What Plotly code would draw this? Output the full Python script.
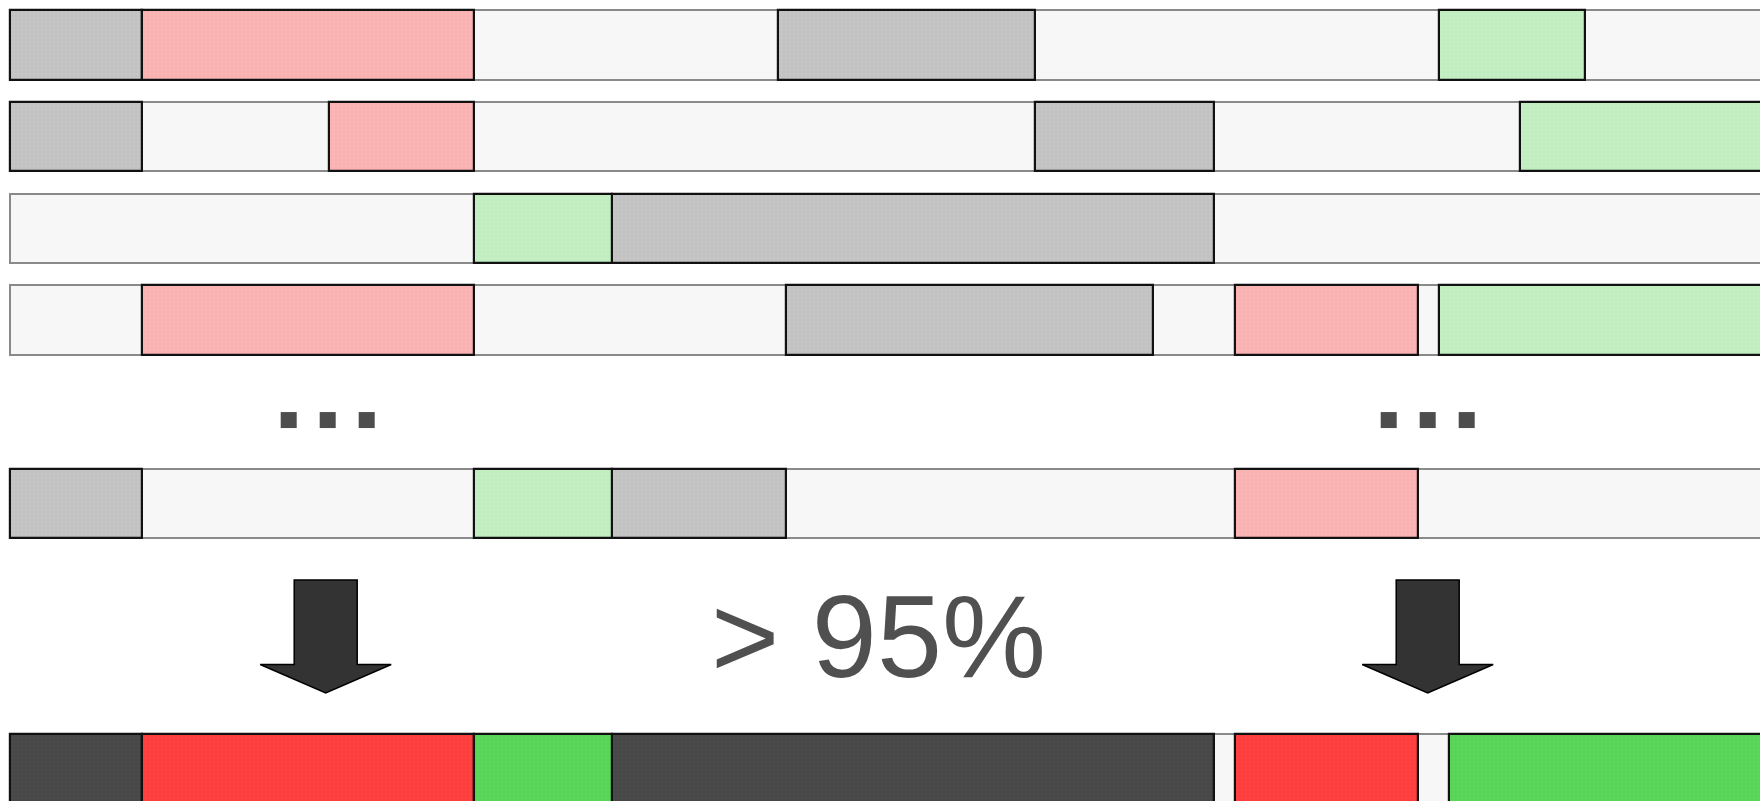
import plotly.graph_objects as go

# ---- data -------------------------------------------------------------
# row labels and their vertical slot (row index; 4 is the "..." gap)
row_names = ["run 1", "run 2", "run 3", "run 4", "run n", "result"]
row_slots = [0, 1, 2, 3, 5, 7.89]

# segments per row: start, end (time units), kind
run1_start = [0.0, 13.2, 76.8, 142.9]
run1_end = [13.2, 46.4, 102.5, 157.5]
run1_kind = ["gray", "red", "gray", "green"]

run2_start = [0.0, 31.9, 102.5, 151.0]
run2_end = [13.2, 46.4, 120.4, 180.0]
run2_kind = ["gray", "red", "gray", "green"]

run3_start = [46.4, 60.2]
run3_end = [60.2, 120.4]
run3_kind = ["green", "gray"]

run4_start = [13.2, 77.6, 122.5, 142.9]
run4_end = [46.4, 114.3, 140.8, 180.0]
run4_kind = ["red", "gray", "red", "green"]

runn_start = [0.0, 46.4, 60.2, 122.5]
runn_end = [13.2, 60.2, 77.6, 140.8]
runn_kind = ["gray", "green", "gray", "red"]

result_start = [0.0, 13.2, 46.4, 60.2, 122.5, 143.9]
result_end = [13.2, 46.4, 60.2, 120.4, 140.8, 180.0]
result_kind = ["dgray", "dred", "dgreen", "dgray", "dred", "dgreen"]

track_end = 180.0
ellipsis_x = [27.9, 31.8, 35.7, 137.9, 141.8, 145.7]
arrow_x = [31.6, 141.8]
label_text = "> 95%"
label_x = 86.9

# ---- styling ----------------------------------------------------------
colors = {
    "gray": ("#c1c1c1", "#d6d6d6"),
    "red": ("#fbb0b0", "#ffcfcf"),
    "green": ("#bfedbf", "#d6f5d6"),
    "dgray": ("#474747", "#575757"),
    "dred": ("#fe3b3b", "#ff5a5a"),
    "dgreen": ("#55d555", "#6ee06e"),
}
BAR_W = 0.757

starts = [run1_start, run2_start, run3_start, run4_start, runn_start, result_start]
ends = [run1_end, run2_end, run3_end, run4_end, runn_end, result_end]
kinds = [run1_kind, run2_kind, run3_kind, run4_kind, runn_kind, result_kind]

fig = go.Figure()

# background tracks
fig.add_trace(go.Bar(
    y=row_slots, x=[track_end] * len(row_slots), base=[0.0] * len(row_slots),
    orientation="h", width=BAR_W,
    marker=dict(color="#f7f7f7", line=dict(color="#8a8a8a", width=2)),
    hoverinfo="skip", showlegend=False,
))

# colored segments grouped by kind
for kind, (col, light) in colors.items():
    ys, xs, bs = [], [], []
    for slot, st, en, kd in zip(row_slots, starts, ends, kinds):
        for s, e, k in zip(st, en, kd):
            if k == kind:
                ys.append(slot)
                xs.append(e - s)
                bs.append(s)
    if not ys:
        continue
    fig.add_trace(go.Bar(
        y=ys, x=xs, base=bs, orientation="h", width=BAR_W,
        marker=dict(color=col, line=dict(color="#111111", width=2.2),
                    pattern=dict(shape="+", size=4, solidity=0.12,
                                 fgcolor=light, bgcolor=col,
                                 fillmode="replace")),
        name=kind, showlegend=False,
    ))

# "..." markers
fig.add_trace(go.Scatter(
    x=ellipsis_x, y=[4.09] * len(ellipsis_x), mode="markers",
    marker=dict(symbol="square", size=16, color="#4d4d4d",
                line=dict(width=0)),
    showlegend=False, hoverinfo="skip",
))

# arrows
shaft_hw, head_hw = 3.15, 6.55
y_top, y_wing, y_tip = 5.834, 6.756, 7.066
for ax in arrow_x:
    path = (f"M {ax - shaft_hw} {y_top} L {ax + shaft_hw} {y_top} "
            f"L {ax + shaft_hw} {y_wing} L {ax + head_hw} {y_wing} "
            f"L {ax} {y_tip} L {ax - head_hw} {y_wing} "
            f"L {ax - shaft_hw} {y_wing} Z")
    fig.add_shape(type="path", path=path, xref="x", yref="y",
                  fillcolor="#333333", line=dict(color="#000000", width=1.5))

fig.add_annotation(
    x=label_x, y=6.455, xref="x", yref="y", text=label_text,
    showarrow=False, xanchor="center", yanchor="middle",
    font=dict(family="Liberation Sans, Arial, sans-serif", size=117,
              color="#505050"),
)

fig.update_layout(
    width=1760, height=801,
    margin=dict(l=0, r=0, t=0, b=0),
    paper_bgcolor="white", plot_bgcolor="white",
    barmode="overlay", bargap=0,
    showlegend=False,
)
fig.update_xaxes(range=[-0.97, 175.03], visible=False, fixedrange=True)
fig.update_yaxes(range=[8.244, -0.4907], visible=False, fixedrange=True)

fig.write_html(
    "out.html",
    config={"displayModeBar": False},
    post_script="document.body.style.margin='0';"
                "document.body.style.overflow='hidden';",
)
